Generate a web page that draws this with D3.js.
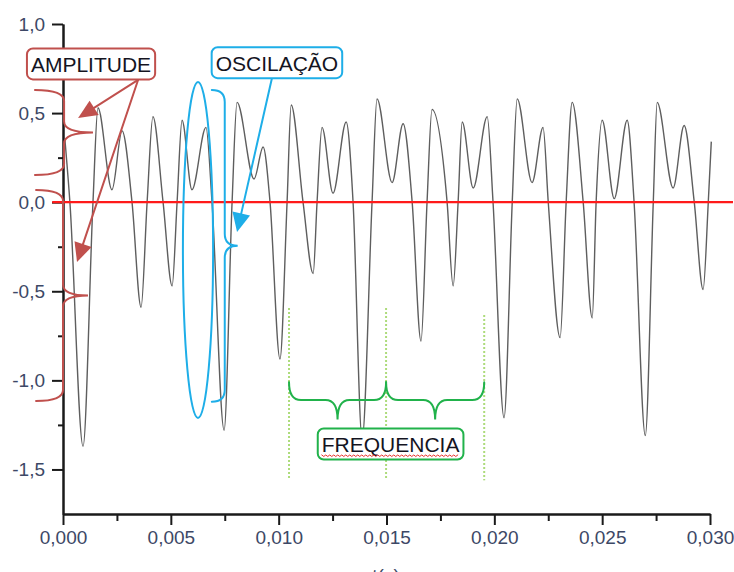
<!DOCTYPE html>
<html>
<head>
<meta charset="utf-8">
<script src="https://cdn.jsdelivr.net/npm/d3@7"></script>
<style>
  body { margin: 0; background: #fff; }
  svg { display: block; font-family: "Liberation Sans", Arial, sans-serif; }
  .axis path, .axis line { stroke: #1a1a1a; stroke-width: 2; }
  .axis text { fill: #3d4866; font-size: 19px; font-family: "Liberation Sans", Arial, sans-serif; }
</style>
</head>
<body>
<svg id="chart" width="734" height="572"></svg>
<script>
"use strict";

// signal: time (s) and amplitude
var times = [0.00009, 0.00032, 0.00093, 0.00139, 0.00162, 0.00227, 0.00274, 0.00320, 0.00362, 0.00390,
             0.00417, 0.00464, 0.00506, 0.00529, 0.00552, 0.00598, 0.00663, 0.00691, 0.00747, 0.00784,
             0.00807, 0.00886, 0.00928, 0.00960, 0.01006, 0.01039, 0.01058, 0.01113, 0.01160, 0.01178,
             0.01201, 0.01252, 0.01313, 0.01345, 0.01387, 0.01433, 0.01456, 0.01526, 0.01577, 0.01619,
             0.01660, 0.01688, 0.01711, 0.01781, 0.01809, 0.01832, 0.01851, 0.01902, 0.01967, 0.01994,
             0.02045, 0.02083, 0.02106, 0.02175, 0.02226, 0.02250, 0.02305, 0.02333, 0.02361, 0.02412,
             0.02454, 0.02472, 0.02500, 0.02556, 0.02616, 0.02648, 0.02700, 0.02737, 0.02755, 0.02829,
             0.02880, 0.02927, 0.02968, 0.02992, 0.03006];
var amps = [0.35, 0, -1.37, 0, 0.53, 0.07, 0.40, 0, -0.59, 0,
            0.48, 0, -0.47, 0, 0.46, 0.07, 0.42, 0, -1.28, 0,
            0.56, 0.13, 0.31, 0, -0.88, 0, 0.545, 0, -0.40, 0,
            0.42, 0.05, 0.45, 0, -1.33, 0, 0.58, 0.11, 0.44, 0,
            -0.78, 0, 0.52, 0, -0.47, 0, 0.45, 0.08, 0.48, 0,
            -1.21, 0, 0.58, 0.11, 0.42, 0, -0.76, 0, 0.56, 0,
            -0.65, 0, 0.46, 0.02, 0.46, 0, -1.31, 0, 0.56, 0.08,
            0.43, 0, -0.49, 0, 0.34];

// axis ticks
var xMajor = [0, 0.005, 0.010, 0.015, 0.020, 0.025, 0.030];
var xMinor = [0.0025, 0.0075, 0.0125, 0.0175, 0.0225, 0.0275];
var yMajor = [1.0, 0.5, 0, -0.5, -1.0, -1.5];
var yMinor = [0.75, 0.25, -0.25, -0.75, -1.25];

// one period marked on the signal (s)
var freqMarks = [0.01048, 0.01498, 0.01953];

var RED = "#c0504d", BLUE = "#1eaee8", GREEN = "#21b24b";

var svg = d3.select("#chart");
var x = d3.scaleLinear().domain([0, 0.030]).range([63, 710]);
var y = d3.scaleLinear().domain([-1.75, 1.0]).range([514, 24]);

function comma(d, n) { return d.toFixed(n).replace(".", ","); }

// axes
svg.append("g").attr("class", "axis")
  .attr("transform", "translate(0," + y(-1.75) + ")")
  .call(d3.axisBottom(x).tickValues(xMinor).tickSize(7).tickSizeOuter(0).tickFormat(""));
svg.append("g").attr("class", "axis")
  .attr("transform", "translate(0," + y(-1.75) + ")")
  .call(d3.axisBottom(x).tickValues(xMajor).tickSize(11).tickSizeOuter(0).tickPadding(6)
    .tickFormat(d => comma(d, 3)));
svg.append("g").attr("class", "axis")
  .attr("transform", "translate(" + x(0) + ",0)")
  .call(d3.axisLeft(y).tickValues(yMinor).tickSize(5).tickSizeOuter(0).tickFormat(""));
svg.append("g").attr("class", "axis")
  .attr("transform", "translate(" + x(0) + ",0)")
  .call(d3.axisLeft(y).tickValues(yMajor).tickSize(11).tickSizeOuter(0).tickPadding(7)
    .tickFormat(d => comma(d, 1)));

svg.append("text")
  .attr("x", 386).attr("y", 582)
  .attr("text-anchor", "middle")
  .style("font-size", "19px").style("fill", "#3d4866")
  .text("t(s)");

// the signal
var line = d3.line()
  .x((d, i) => x(times[i]))
  .y(d => y(d))
  .curve(d3.curveMonotoneX);
svg.append("path")
  .datum(amps)
  .attr("d", line)
  .attr("fill", "none")
  .attr("stroke", "#5e5e5e")
  .attr("stroke-width", 1.4);

// zero line
svg.append("line")
  .attr("x1", x(-0.0005)).attr("x2", 733)
  .attr("y1", y(0)).attr("y2", y(0))
  .attr("stroke", "#ff1a1a").attr("stroke-width", 2.2);

// helpers for the annotations
function braceV(xEnd, xSpine, xTip, y1, y2, r) {
  var ym = (y1 + y2) / 2;
  return "M" + xEnd + "," + y1 +
    "Q" + xSpine + "," + y1 + " " + xSpine + "," + (y1 + r) +
    "L" + xSpine + "," + (ym - r) +
    "Q" + xSpine + "," + ym + " " + xTip + "," + ym +
    "Q" + xSpine + "," + ym + " " + xSpine + "," + (ym + r) +
    "L" + xSpine + "," + (y2 - r) +
    "Q" + xSpine + "," + y2 + " " + xEnd + "," + y2;
}
function braceH(x1, x2, yEnd, ySpine, yTip, r) {
  var xm = (x1 + x2) / 2;
  return "M" + x1 + "," + yEnd +
    "Q" + x1 + "," + ySpine + " " + (x1 + r) + "," + ySpine +
    "L" + (xm - r) + "," + ySpine +
    "Q" + xm + "," + ySpine + " " + xm + "," + yTip +
    "Q" + xm + "," + ySpine + " " + (xm + r) + "," + ySpine +
    "L" + (x2 - r) + "," + ySpine +
    "Q" + x2 + "," + ySpine + " " + x2 + "," + yEnd;
}
function arrow(g, x0, y0, x1, y1, color, L, w) {
  var dx = x1 - x0, dy = y1 - y0, len = Math.sqrt(dx * dx + dy * dy);
  var ux = dx / len, uy = dy / len;
  var bx = x1 - ux * L, by = y1 - uy * L;
  g.append("line").attr("x1", x0).attr("y1", y0).attr("x2", bx + ux * 2).attr("y2", by + uy * 2)
    .attr("stroke", color).attr("stroke-width", 2);
  g.append("path")
    .attr("d", "M" + x1 + "," + y1 + "L" + (bx - uy * w) + "," + (by + ux * w) +
               "L" + (bx + uy * w) + "," + (by - ux * w) + "Z")
    .attr("fill", color);
}
function label(g, cx, cy, txt, color) {
  var box = g.append("rect");
  var t = g.append("text")
    .attr("x", cx).attr("y", cy + 8)
    .attr("text-anchor", "middle")
    .style("font-size", "21px").style("fill", "#14141f")
    .text(txt);
  var w = t.node().getComputedTextLength() + 8;
  box.attr("x", cx - w / 2).attr("y", cy - 15.5)
    .attr("width", w).attr("height", 31).attr("rx", 6)
    .attr("fill", "#fff").attr("stroke", color).attr("stroke-width", 2);
  return t;
}

var ann = svg.append("g").attr("fill", "none").attr("stroke-linecap", "round");

// AMPLITUDE
ann.append("path")
  .attr("d", braceV(x(-0.0013), x(0.00005), x(0.00139), y(0.63), y(0.153), 11))
  .attr("fill", "none").attr("stroke", RED).attr("stroke-width", 2);
ann.append("path")
  .attr("d", braceV(x(-0.00125), x(0), x(0.00116), y(0.068), y(-1.116), 11))
  .attr("fill", "none").attr("stroke", RED).attr("stroke-width", 2);
arrow(ann, x(0.00348), y(0.686), x(0.0007), y(0.472), RED, 19, 8.5);
arrow(ann, x(0.00348), y(0.686), x(0.00065), y(-0.336), RED, 19, 9);
label(ann, x(0.0013), y(0.776), "AMPLITUDE", RED);

// OSCILAÇÃO
ann.append("ellipse")
  .attr("cx", x(0.00626)).attr("cy", y(-0.268))
  .attr("rx", x(0.0007) - x(0)).attr("ry", y(-0.943) - y(0))
  .attr("fill", "none").attr("stroke", BLUE).attr("stroke-width", 2);
ann.append("path")
  .attr("d", braceV(x(0.0069), x(0.0075), x(0.0081), y(0.63), y(-1.12), 12))
  .attr("fill", "none").attr("stroke", BLUE).attr("stroke-width", 2);
arrow(ann, x(0.00969), y(0.697), x(0.00807), y(-0.167), BLUE, 19, 9);
label(ann, x(0.00992), y(0.783), "OSCILAÇÃO", BLUE);

// FREQUENCIA
ann.selectAll(".fmark")
  .data(freqMarks).enter()
  .append("line")
    .attr("x1", d => x(d)).attr("x2", d => x(d))
    .attr("y1", (d, i) => y(i === 2 ? -0.634 : -0.595)).attr("y2", y(-1.56))
    .attr("stroke", "#92d050").attr("stroke-width", 2)
    .attr("stroke-dasharray", "1.5,2.5").attr("stroke-linecap", "butt");
for (var i = 0; i < freqMarks.length - 1; i++) {
  ann.append("path")
    .attr("d", braceH(x(freqMarks[i]), x(freqMarks[i + 1]), y(-1.01), y(-1.11), y(-1.22), 12))
    .attr("fill", "none").attr("stroke", GREEN).attr("stroke-width", 2);
}
var ft = label(ann, x(0.01519), y(-1.357), "FREQUENCIA", GREEN);

// spell-check squiggle under FREQUENCIA
var fb = ft.node().getBBox();
var sq = "M" + fb.x + "," + (fb.y + fb.height - 1);
for (var sx = fb.x + 2, k = 0; sx <= fb.x + fb.width; sx += 2, k++) {
  sq += "L" + sx + "," + (fb.y + fb.height - 1 + (k % 2 ? 0 : 1.5));
}
ann.append("path").attr("d", sq)
  .attr("fill", "none").attr("stroke", "#e8302a").attr("stroke-width", 1);
</script>
</body>
</html>
